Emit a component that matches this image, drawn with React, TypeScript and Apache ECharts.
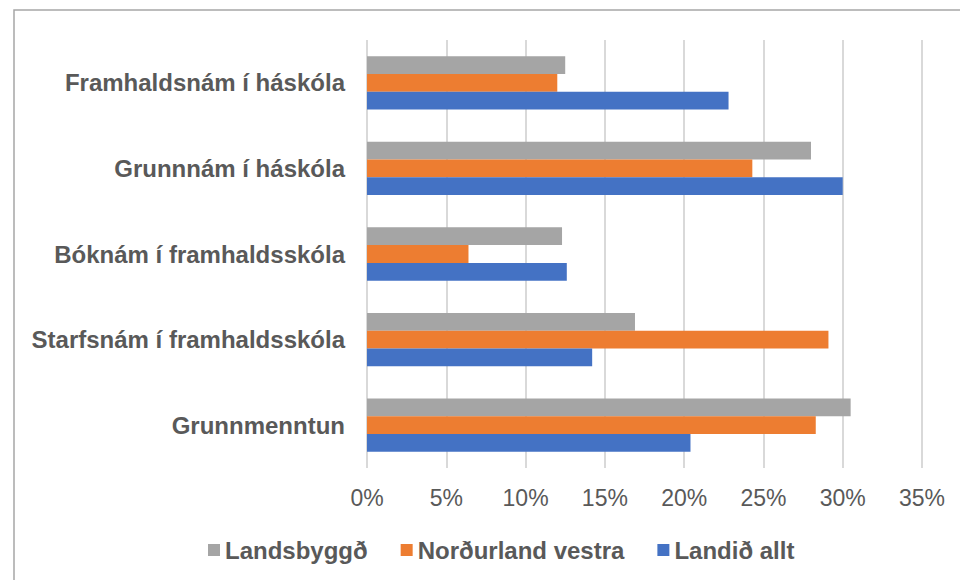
import React, { useEffect, useRef } from "react";
import * as echarts from "echarts";

const categories = [
  "Grunnmenntun",
  "Starfsnám í framhaldsskóla",
  "Bóknám í framhaldsskóla",
  "Grunnnám í háskóla",
  "Framhaldsnám í háskóla",
];
const seriesNames = ["Landsbyggð", "Norðurland vestra", "Landið allt"];
const landsbyggd = [30.5, 16.9, 12.3, 28.0, 12.5];
const nordurlandVestra = [28.3, 29.1, 6.4, 24.3, 12.0];
const landidAllt = [20.4, 14.2, 12.6, 30.0, 22.8];
const xTicks = [0, 5, 10, 15, 20, 25, 30, 35];
const colors = ["#A5A5A5", "#ED7D31", "#4472C4"];

export default function App() {
  const ref = useRef<HTMLDivElement>(null);
  useEffect(() => {
    if (!ref.current) return;
    const chart = echarts.init(ref.current, null, { renderer: "svg" });
    const values = [landsbyggd, nordurlandVestra, landidAllt];
    chart.setOption({
      animation: false,
      textStyle: { fontFamily: "Liberation Sans, Arial, sans-serif" },
      graphic: [
        {
          type: "rect",
          shape: { x: 14, y: 10, width: 980, height: 600 },
          style: { fill: "none", stroke: "#A6A6A6", lineWidth: 1.5 },
          silent: true,
        },
      ],
      grid: { left: 367, right: 38, top: 40, bottom: 112, containLabel: false },
      legend: {
        data: seriesNames,
        left: 203,
        top: 533,
        icon: "rect",
        itemWidth: 12,
        itemHeight: 12,
        itemGap: 33,
        textStyle: { fontSize: 24, fontWeight: "bold", color: "#595959" },
      },
      xAxis: {
        type: "value",
        min: xTicks[0],
        max: xTicks[xTicks.length - 1],
        interval: 5,
        axisLine: { show: false },
        axisTick: { show: false },
        axisLabel: { formatter: "{value}%", fontSize: 23, color: "#595959", margin: 18 },
        splitLine: { lineStyle: { color: "#D9D9D9", width: 2 } },
      },
      yAxis: {
        type: "category",
        data: categories,
        axisLine: { show: false },
        axisTick: { show: false },
        axisLabel: { fontSize: 24, fontWeight: "bold", color: "#595959", margin: 22 },
      },
      series: seriesNames.map((name, i) => ({
        name,
        type: "bar",
        data: values[i],
        itemStyle: { color: colors[i] },
        barGap: "0%",
        barCategoryGap: "37.7%",
      })),
    });
    return () => chart.dispose();
  }, []);
  return (
    <div
      ref={ref}
      style={{ position: "fixed", left: 0, top: 0, width: 960, height: 580, background: "#fff" }}
    />
  );
}
